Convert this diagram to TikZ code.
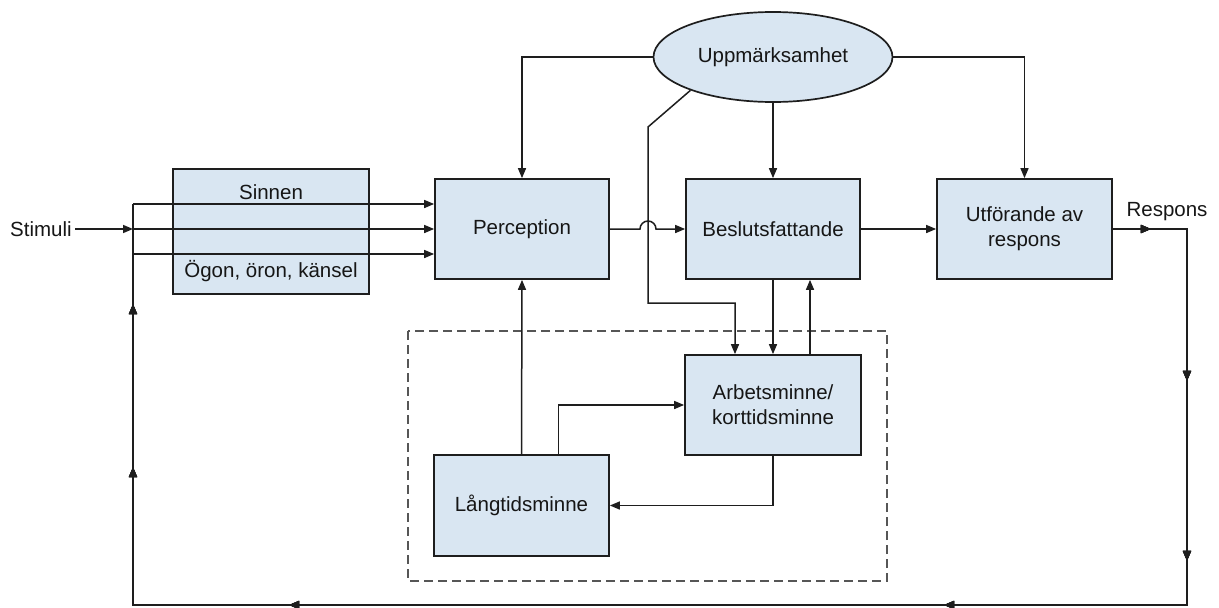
\documentclass[tikz,border=0pt]{standalone}
\usepackage{fontspec}
\setmainfont{Liberation Sans}
\usetikzlibrary{arrows.meta,shapes.geometric,decorations.markings}
\definecolor{boxfill}{RGB}{217,230,242}
\definecolor{edge}{RGB}{30,30,30}
\definecolor{txt}{RGB}{22,22,22}

\begin{document}
\begin{tikzpicture}[x=1pt,y=-1pt,
  font=\fontsize{20.5}{25}\selectfont,
  every node/.style={text=txt},
  blk/.style={draw=edge,line width=1.7pt,fill=boxfill,inner sep=0pt,align=center},
  conn/.style={line width=1.5pt,draw=edge},
  tip/.style={-{Triangle[length=10pt,width=8pt]}},
  arr/.style={conn,tip},
  mtip/.style={postaction={decorate},decoration={markings,
     mark=at position #1 with {\arrow{Triangle[length=10pt,width=8pt]}}}},
]
\useasboundingbox (0,0) rectangle (1219,608);

% memory group
\draw[draw=edge!75,line width=1.5pt,dash pattern=on 9pt off 5pt] (408,331) rectangle (887,581);

% blocks
\node[blk,minimum width=196pt,minimum height=125pt] (sen) at (271,231.5) {};
\node at (271,192) (senA) {Sinnen};
\node at (271,271) (senB) {Ögon, öron, känsel};
\node[blk,minimum width=174pt,minimum height=100pt] (perc) at (522,229) {Perception};
\node[blk,minimum width=174pt,minimum height=100pt] (besl) at (773,229) {Beslutsfattande};
\node[blk,minimum width=175pt,minimum height=100pt] (utf) at (1024.5,229) {Utförande av\\respons};
\node[blk,minimum width=176pt,minimum height=100pt] (arb) at (773,405) {Arbetsminne/\\korttidsminne};
\node[blk,minimum width=175pt,minimum height=101pt] (lang) at (521.5,505.5) {Långtidsminne};
\node[draw=edge,line width=1.7pt,fill=boxfill,ellipse,inner sep=0pt,
      minimum width=239pt,minimum height=90pt] (att) at (773,57) {Uppmärksamhet};

% free labels
\node (stim) at (41,229) {Stimuli};
\node (resp) at (1167,212) {Respons};

% junction points on the feedback line
\coordinate (jt) at (133,204);
\coordinate (jm) at (133,229);
\coordinate (jb) at (133,254);
\coordinate (rc) at (1187,229);
\coordinate (br) at (1187,605);
\coordinate (bl) at (133,605);

% input
\draw[arr] (stim.east) -- (jm);
\draw[arr] (jt) -- (perc.west |- jt);
\draw[arr] (jm) -- (perc.west);
\draw[arr] (jb) -- (perc.west |- jb);

% response and feedback loop
\draw[conn,mtip=38pt,mtip=226pt,mtip=406pt,mtip=693pt,mtip=1348pt,mtip=1642pt,mtip=1805pt]
  (utf.east) -- (rc) -- (br) -- (bl) -- (jt);

% attention
\draw[arr] (att.west) -| (perc.north);
\draw[arr] (att.east) -| (utf.north);
\draw[arr] (att.south) -- (besl.north);
\coordinate (dg) at (648,127);
\draw[arr] (att.202) -- (dg) -- (648,303) -| ([xshift=-38pt]arb.north);

% processing chain
\draw[arr] (perc.east) -- (640,229) arc[start angle=180,end angle=360,radius=8] -- (besl.west);
\draw[arr] (besl.east) -- (utf.west);
\draw[arr] (besl.south) -- (arb.north);
\draw[arr] ([xshift=37pt]arb.north) -- ([xshift=37pt]besl.south);

% memory
\draw[arr] (lang.north) -- (perc.south);
\draw[arr] ([xshift=37pt]lang.north) |- (arb.west);
\draw[arr] (arb.south) |- (lang.east);
\end{tikzpicture}
\end{document}
